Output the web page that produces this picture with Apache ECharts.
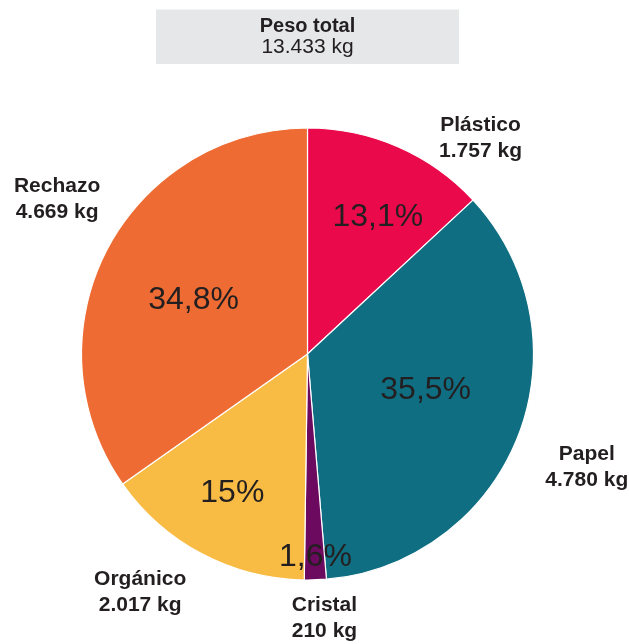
<!DOCTYPE html>
<html>
<head>
<meta charset="utf-8">
<script src="https://cdn.jsdelivr.net/npm/echarts@6/dist/echarts.min.js"></script>
<style>
html,body{margin:0;padding:0;background:#fff;}
#chart{width:629px;height:644px;}
</style>
</head>
<body>
<div id="chart"></div>
<script>
// Data
const categories = ['Plástico', 'Papel', 'Cristal', 'Orgánico', 'Rechazo'];
const weightsKg = [1757, 4780, 210, 2017, 4669];
const percentLabels = ['13,1%', '35,5%', '1,6%', '15%', '34,8%'];
const colors = ['#EA0A4B', '#0F6E82', '#6B0A5E', '#F8BC45', '#EE6C34'];
const titleLabel = 'Peso total';

const total = weightsKg.reduce((a, b) => a + b, 0);
function fmtKg(v) {
  return String(v).replace(/\B(?=(\d{3})+(?!\d))/g, '.') + ' kg';
}

// label offsets (style tweaks)
const innerOffsets = [[24, -30], [10, -6], [4, 87], [-21, 37], [-11, 0]];
const outerOffsets = [[59, 46], [13, 10], [7, -21], [-34, -14], [3, -23]];

const R = 226;
const center = [307.5, 354];
const textColor = '#231F20';
const fontFamily = '"Liberation Sans", Arial, Helvetica, sans-serif';

const mainData = categories.map((c, i) => ({
  name: c,
  value: weightsKg[i],
  itemStyle: { color: colors[i] },
  label: { offset: innerOffsets[i] }
}));
const outerData = categories.map((c, i) => ({
  name: c,
  value: weightsKg[i],
  label: { offset: outerOffsets[i] }
}));

const chart = echarts.init(document.getElementById('chart'), null, { renderer: 'canvas' });
chart.setOption({
  animation: false,
  backgroundColor: '#fff',
  title: {
    text: '{a|' + titleLabel + '}\n{b|' + fmtKg(total) + '}',
    left: 156,
    top: 9,
    padding: [7, 0, 6, 0],
    backgroundColor: '#E6E7E8',
    textStyle: {
      fontFamily: fontFamily,
      rich: {
        a: { fontSize: 20, fontWeight: 'bold', color: textColor, width: 303, align: 'center', lineHeight: 21, fontFamily: fontFamily },
        b: { fontSize: 21, fontWeight: 'normal', color: textColor, width: 303, align: 'center', lineHeight: 21, fontFamily: fontFamily }
      }
    }
  },
  series: [
    {
      type: 'pie',
      center: center,
      radius: [0, R],
      startAngle: 90,
      clockwise: true,
      silent: true,
      itemStyle: { borderColor: '#fff', borderWidth: 1.2 },
      label: {
        show: true,
        position: 'inside',
        formatter: p => percentLabels[p.dataIndex],
        fontSize: 32,
        color: textColor,
        fontFamily: fontFamily
      },
      labelLine: { show: false },
      data: mainData
    },
    {
      type: 'pie',
      center: center,
      radius: [R, R * 1.5],
      startAngle: 90,
      clockwise: true,
      silent: true,
      z: 1,
      itemStyle: { color: 'rgba(0,0,0,0)', borderWidth: 0 },
      label: {
        show: true,
        position: 'inside',
        formatter: p => p.name + '\n' + fmtKg(p.value),
        fontSize: 21,
        lineHeight: 26,
        fontWeight: 'bold',
        color: textColor,
        align: 'center',
        fontFamily: fontFamily
      },
      labelLine: { show: false },
      data: outerData
    }
  ]
});
</script>
</body>
</html>
